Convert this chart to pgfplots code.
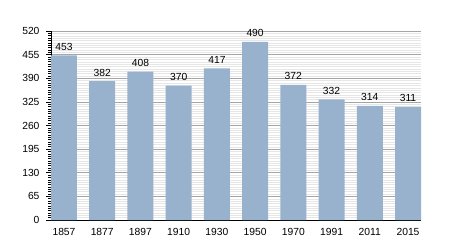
\documentclass[border=0pt]{standalone}
\usepackage{pgfplots}
\pgfplotsset{compat=1.18}
\usepackage{fontspec}
\setmainfont{Liberation Sans}
\definecolor{barblue}{RGB}{152,178,206}
\definecolor{majgrid}{RGB}{165,165,165}
\definecolor{mingrid}{RGB}{230,230,230}
\begin{document}
\begin{tikzpicture}[x=1pt,y=1pt]
\useasboundingbox (0,0) rectangle (450,250);
\begin{axis}[
  at={(51pt,30pt)}, anchor=south west,
  scale only axis, width=370pt, height=189pt,
  xmin=-0.34, xmax=9.34, ymin=0, ymax=520,
  ybar, bar width=26pt,
  axis lines*=left,
  axis line style={black, line width=0.8pt},
  xtick={0,...,9},
  xticklabels={1857,1877,1897,1910,1930,1950,1970,1991,2011,2015},
  xtick style={draw=none},
  ytick={0,65,...,520},
  minor y tick num=9,
  tick align=outside,
  major tick length=5pt, minor tick length=3pt,
  ytick style={black, line width=0.6pt},
  ymajorgrids, yminorgrids,
  major grid style={majgrid, line width=0.7pt},
  minor grid style={mingrid, line width=0.4pt},
  /pgf/number format/assume math mode=true,
  tick label style={font=\fontsize{10.3}{10.3}\selectfont},
  yticklabel style={xshift=-3pt},
  nodes near coords,
  every node near coord/.append style={font=\fontsize{10.3}{10.3}\selectfont, yshift=1.5pt, black},
  clip=false,
]
\addplot[fill=barblue, draw=none] coordinates {
 (0,453) (1,382) (2,408) (3,370) (4,417) (5,490) (6,372) (7,332) (8,314) (9,311)
};
\end{axis}
\end{tikzpicture}
\end{document}
